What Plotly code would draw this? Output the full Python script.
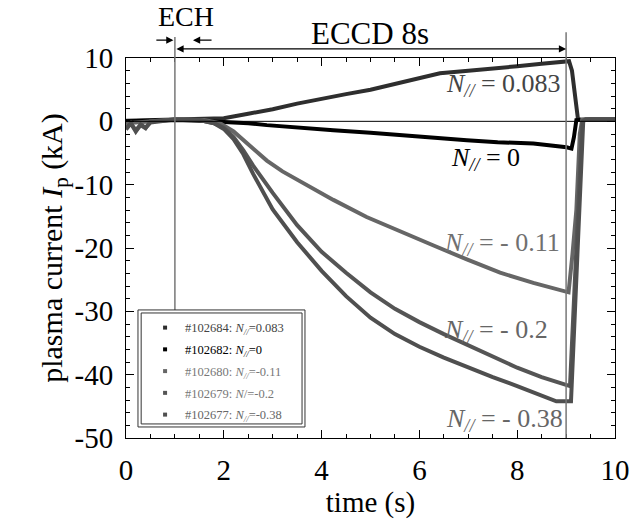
import plotly.graph_objects as go

# ---- data ----
t_p083 = [0, 0.5, 1.0, 1.5, 2.0, 2.5, 3.0, 3.5, 4.0, 4.5, 5.0, 5.5, 6.0, 6.42, 7.0, 7.5, 7.78, 8.0, 8.5, 9.0, 9.06, 9.12, 9.18, 9.24, 9.3, 9.5, 10.0]
v_p083 = [0.1, 0.2, 0.3, 0.3, 0.5, 1.2, 1.9, 2.8, 3.6, 4.3, 5.0, 5.9, 6.8, 7.6, 8.0, 8.3, 8.5, 8.7, 9.1, 9.5, 9.5, 8.0, 4.0, 0.5, 0.2, 0.3, 0.3]

t_0 = [0, 0.5, 1.0, 1.5, 1.8, 2.19, 2.5, 2.88, 3.5, 4.24, 5.0, 5.6, 6.42, 6.97, 7.6, 8.33, 9.01, 9.11, 9.16, 9.21, 9.5, 10.0]
v_0 = [0.0, 0.1, 0.2, 0.1, 0.0, -0.05, -0.3, -0.6, -1.0, -1.4, -1.8, -2.2, -2.6, -3.0, -3.3, -3.5, -4.1, -4.3, -2.5, 0.2, 0.3, 0.3]

t_m011 = [0, 0.5, 1.0, 1.6, 1.92, 2.2, 2.54, 2.88, 3.2, 3.56, 4.24, 4.92, 5.6, 6.29, 6.97, 7.65, 8.33, 9.01, 9.05, 9.13, 9.21, 9.28, 9.33, 9.4, 10.0]
v_m011 = [-0.3, 0.0, 0.3, 0.2, -0.3, -1.6, -3.8, -6.2, -7.9, -9.5, -12.4, -15.1, -17.4, -19.6, -21.8, -23.9, -25.5, -26.9, -27.0, -21.0, -14.0, -2.0, 0.3, 0.3, 0.3]

t_m02 = [0, 0.1, 0.2, 0.3, 0.4, 0.5, 1.0, 1.5, 1.8, 2.0, 2.2, 2.4, 2.6, 2.8, 3.0, 3.5, 4.0, 4.5, 5.0, 5.5, 6.0, 6.5, 7.0, 7.5, 8.0, 8.5, 9.0, 9.08, 9.33, 9.4, 10.0]
v_m02 = [-1.0, -0.4, -1.4, -0.6, -1.1, 0.0, 0.3, 0.2, -0.3, -1.0, -2.5, -4.6, -7.0, -9.2, -11.3, -16.4, -20.6, -23.9, -27.0, -29.6, -31.7, -33.6, -35.4, -37.2, -38.9, -40.4, -41.7, -41.8, 0.0, 0.3, 0.3]

t_m038 = [0, 0.1, 0.2, 0.3, 0.4, 0.5, 1.0, 1.5, 1.8, 2.0, 2.2, 2.4, 2.6, 2.8, 3.0, 3.5, 4.0, 4.5, 5.0, 5.5, 6.0, 6.5, 7.0, 7.5, 8.0, 8.5, 8.8, 9.1, 9.35, 9.4, 10.0]
v_m038 = [-1.3, -0.3, -1.6, -0.5, -1.0, -0.2, 0.3, 0.2, -0.3, -1.2, -2.8, -5.2, -8.3, -11.2, -13.9, -19.1, -23.6, -27.6, -31.0, -33.6, -35.6, -37.3, -38.9, -40.4, -41.8, -43.3, -44.2, -44.2, 0.0, 0.3, 0.3]

series_t = [t_p083, t_0, t_m011, t_m02, t_m038]
series_v = [v_p083, v_0, v_m011, v_m02, v_m038]
series_colors = ["#2e2e2e", "#000000", "#666666", "#555555", "#4f4f4f"]
legend_names = [
    "#102684: <i>N</i><sub><i>//</i></sub>=0.083",
    "#102682: <i>N</i><sub><i>//</i></sub>=0",
    "#102680: <i>N</i><sub><i>//</i></sub>=-0.11",
    "#102679: <i>N</i>/=-0.2",
    "#102677: <i>N</i><sub><i>//</i></sub>=-0.38",
]
legend_text_colors = ["#444444", "#000000", "#777777", "#777777", "#666666"]
curve_labels = [
    "<i>N</i><sub><i>//</i></sub> = 0.083",
    "<i>N</i><sub><i>//</i></sub> = 0",
    "<i>N</i><sub><i>//</i></sub> = - 0.11",
    "<i>N</i><sub><i>//</i></sub> = - 0.2",
    "<i>N</i><sub><i>//</i></sub> = - 0.38",
]
label_x = [8.94, 8.10, 8.92, 8.67, 8.98]
label_y = [5.8, -6.0, -19.3, -33.1, -47.1]
label_colors = ["#444444", "#000000", "#707070", "#666666", "#666666"]

x_ticks = [0, 2, 4, 6, 8, 10]
y_ticks = [10, 0, -10, -20, -30, -40, -50]

FONT = "Liberation Serif"

fig = go.Figure()

for t, v, c in zip(series_t, series_v, series_colors):
    fig.add_trace(go.Scatter(x=t, y=v, mode="lines", line=dict(color=c, width=4),
                             showlegend=False, hoverinfo="skip"))

for i, (name, c, tc) in enumerate(zip(legend_names, series_colors, legend_text_colors)):
    fig.add_trace(go.Scatter(x=[None], y=[None], mode="markers",
                             marker=dict(symbol="square", size=4, color=c),
                             name=f'<span style="color:{tc}">{name}</span>',
                             legendgroup=f"g{i}", showlegend=True))

axis_common = dict(
    showline=True, linecolor="#000", linewidth=1, mirror="allticks",
    ticks="inside", ticklen=8, tickcolor="#000", tickwidth=1,
    showgrid=False, zeroline=False,
    tickfont=dict(family=FONT, size=29, color="#000"),
)

fig.update_xaxes(range=[0, 10], tickvals=x_ticks, ticktext=[str(v) for v in x_ticks],
                 minor=dict(ticks="inside", dtick=0.5, tick0=0, ticklen=4, tickcolor="#000"),
                 title=dict(text="time (s)", font=dict(family=FONT, size=29, color="#000"), standoff=1),
                 ticklabelstandoff=6, **axis_common)
fig.update_yaxes(range=[-50, 10], tickvals=y_ticks, ticktext=[str(v) for v in y_ticks],
                 minor=dict(ticks="inside", dtick=2, tick0=0, ticklen=4, tickcolor="#000"),
                 title=dict(text="plasma current <i>I</i><sub>p</sub> (kA)",
                            font=dict(family=FONT, size=30, color="#000"), standoff=3),
                 ticklabelstandoff=6, **axis_common)

shapes = [
    dict(type="line", xref="x", yref="y", x0=0, x1=10, y0=0, y1=0,
         line=dict(color="#000", width=1), layer="above"),
    dict(type="line", xref="x", yref="paper", x0=1, x1=1, y0=0.337, y1=1.055,
         line=dict(color="#777", width=1.5), layer="above"),
    dict(type="line", xref="x", yref="paper", x0=9, x1=9, y0=0, y1=1.068,
         line=dict(color="#777", width=1.5), layer="above"),
    dict(type="rect", xref="paper", yref="paper", x0=0.0245, x1=0.366, y0=0.029, y1=0.337,
         line=dict(color="#333", width=1), fillcolor="white", layer="above"),
    dict(type="rect", xref="paper", yref="paper", x0=0.031, x1=0.360, y0=0.037, y1=0.329,
         line=dict(color="#333", width=1), fillcolor="rgba(0,0,0,0)", layer="above"),
]

annotations = []
for txt, lx, ly, lc in zip(curve_labels, label_x, label_y, label_colors):
    annotations.append(dict(x=lx, y=ly, xref="x", yref="y", text=txt, showarrow=False,
                            xanchor="right", yanchor="middle",
                            font=dict(family=FONT, size=26, color=lc)))

annotations += [
    dict(x=1.22, y=1.108, xref="x", yref="paper", text="ECH", showarrow=False,
         xanchor="center", yanchor="middle",
         font=dict(family=FONT, size=28, color="#000")),
    dict(x=4.99, y=1.064, xref="x", yref="paper", text="ECCD 8s", showarrow=False,
         xanchor="center", yanchor="middle",
         font=dict(family=FONT, size=31, color="#000")),
    # big double arrow
    dict(x=9, y=1.024, xref="x", yref="paper", ax=1, ay=0, axref="x", ayref="pixel",
         text="", showarrow=True, arrowhead=2, arrowside="end+start", arrowsize=1.2,
         arrowwidth=1.2, arrowcolor="#000"),
    # small ECH arrows
    dict(x=0.97, y=1.047, xref="x", yref="paper", ax=0.59, ay=0, axref="x", ayref="pixel",
         text="", showarrow=True, arrowhead=2, arrowsize=1.2, arrowwidth=1.2, arrowcolor="#000"),
    dict(x=1.37, y=1.047, xref="x", yref="paper", ax=1.78, ay=0, axref="x", ayref="pixel",
         text="", showarrow=True, arrowhead=2, arrowsize=1.2, arrowwidth=1.2, arrowcolor="#000"),
]

fig.update_layout(
    width=642, height=522,
    margin=dict(l=126, r=27, t=58, b=84),
    paper_bgcolor="white", plot_bgcolor="white",
    shapes=shapes, annotations=annotations,
    legend=dict(x=0.039, y=0.329, xanchor="left", yanchor="top",
                bgcolor="rgba(0,0,0,0)", borderwidth=0,
                font=dict(family=FONT, size=12.5, color="#000"),
                tracegroupgap=2.5, itemsizing="trace"),
    font=dict(family=FONT),
)

fig.write_html("out.html")
